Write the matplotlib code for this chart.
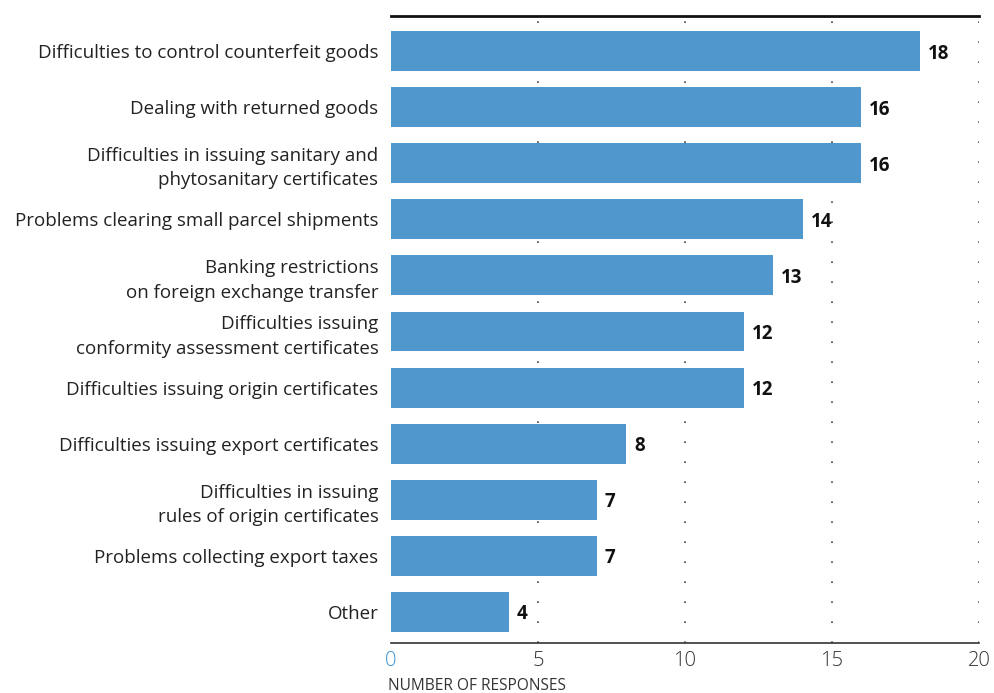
import matplotlib
matplotlib.use("Agg")
import matplotlib.pyplot as plt

categories = [
    "Difficulties to control counterfeit goods",
    "Dealing with returned goods",
    "Difficulties in issuing sanitary and\nphytosanitary certificates",
    "Problems clearing small parcel shipments",
    "Banking restrictions\non foreign exchange transfer",
    "Difficulties issuing\nconformity assessment certificates",
    "Difficulties issuing origin certificates",
    "Difficulties issuing export certificates",
    "Difficulties in issuing\nrules of origin certificates",
    "Problems collecting export taxes",
    "Other",
]
values = [18, 16, 16, 14, 13, 12, 12, 8, 7, 7, 4]
xticks = [0, 5, 10, 15, 20]

plt.rcParams['font.family'] = ['Open Sans', 'DejaVu Sans']

fig = plt.figure(figsize=(9.94, 6.93), dpi=100)
ax = fig.add_axes([391/994, 1-643/693, (979-391)/994, (643-16)/693])

ypos = list(range(len(categories)))
ax.barh(ypos, values, height=0.71, color="#4f97cc", zorder=3)
for y, v in zip(ypos, values):
    ax.text(v + 0.27, y, str(v), va="center_baseline", ha="left", fontsize=13.5,
            fontweight="bold", color="#111111", zorder=4)

ax.set_ylim(10.553, -0.624)
ax.set_xlim(0, 20)
ax.set_yticks(ypos)
ax.set_yticklabels(categories, fontsize=13.5, color="#222222", ha="right",
                   multialignment="right", linespacing=1.45)
ax.tick_params(axis="y", length=0, pad=9)
ax.set_xticks(xticks)
ax.set_xticklabels([str(t) for t in xticks], fontsize=14.5, color="#333333")
ax.get_xticklabels()[0].set_color("#3a8fd0")
ax.tick_params(axis="x", length=0, pad=6)
for lbl in ax.get_xticklabels():
    lbl.set_fontweight("light")

for t in xticks[1:]:
    ax.axvline(t, color="#444444", linestyle=(0, (1, 11)), linewidth=1.2, zorder=1)

for s in ["left", "right"]:
    ax.spines[s].set_visible(False)
ax.spines["top"].set_linewidth(2)
ax.spines["top"].set_color("#111111")
ax.spines["bottom"].set_linewidth(1.2)
ax.spines["bottom"].set_color("#333333")

fig.text(388/994, 1-686/693, "NUMBER OF RESPONSES", fontsize=11.2, color="#333333",
         ha="left", va="center")

fig.savefig("out.png", dpi=100)
